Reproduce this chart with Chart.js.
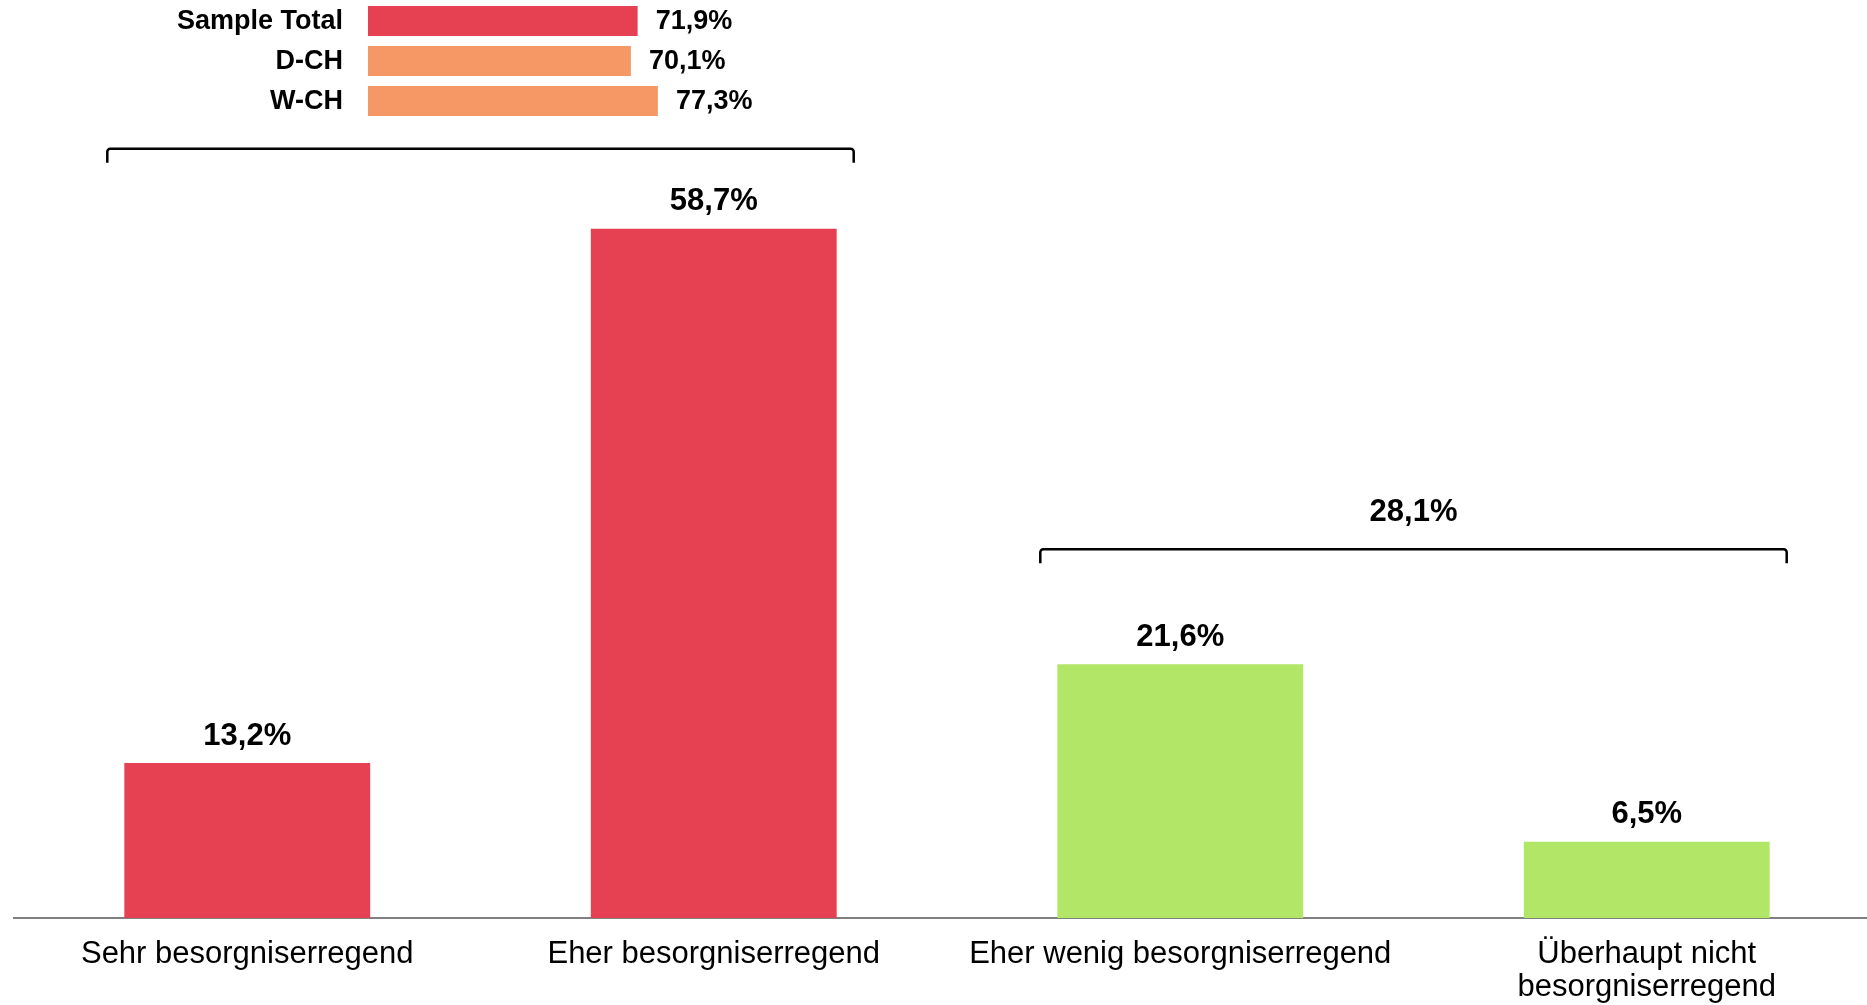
<!DOCTYPE html>
<html>
<head>
<meta charset="utf-8">
<script src="https://cdn.jsdelivr.net/npm/chart.js@4.4.0/dist/chart.umd.min.js"></script>
<style>
  html, body { margin: 0; padding: 0; background: #fff; overflow: hidden; }
  #wrap { position: relative; width: 1880px; height: 1005px; }
  #mainChart { position: absolute; left: 0; top: 0; }
  #regionChart { position: absolute; left: 0; top: 0; }
</style>
</head>
<body>
<div id="wrap">
  <canvas id="mainChart" width="1880" height="1005"></canvas>
  <canvas id="regionChart" width="800" height="125"></canvas>
</div>
<script>
// Main distribution
const categories = ['Sehr besorgniserregend', 'Eher besorgniserregend', 'Eher wenig besorgniserregend', ['Überhaupt nicht', 'besorgniserregend']];
const shares = [13.2, 58.7, 21.6, 6.5];
const barColors = ['#E54152', '#E54152', '#B2E667', '#B2E667'];

// Concern total by region (top left)
const regionLabels = ['Sample Total', 'D-CH', 'W-CH'];
const regionShares = [71.9, 70.1, 77.3];
const regionColors = ['#E54152', '#F59866', '#F59866'];

// Brackets grouping the categories
const bracketGroups = [[0, 1], [2, 3]];
const bracketLevels = [65.5, 31.4];
const bracketLabels = [null, '28,1%'];

const FONT = '"Liberation Sans", Arial, sans-serif';

function fmt(v) {
  return v.toFixed(1).replace('.', ',') + '%';
}

const valueLabels = {
  id: 'valueLabels',
  afterDatasetsDraw(chart) {
    const ctx = chart.ctx;
    const meta = chart.getDatasetMeta(0);
    ctx.save();
    ctx.fillStyle = '#000';
    ctx.font = 'bold 31px ' + FONT;
    ctx.textAlign = 'center';
    ctx.textBaseline = 'middle';
    meta.data.forEach((bar, i) => {
      ctx.fillText(fmt(shares[i]), bar.x, bar.y - 27);
    });
    ctx.restore();
  }
};

const brackets = {
  id: 'brackets',
  afterDatasetsDraw(chart) {
    const ctx = chart.ctx;
    const x = chart.scales.x;
    const y = chart.scales.y;
    const half = (x.getPixelForValue(1) - x.getPixelForValue(0)) * 0.3;
    ctx.save();
    ctx.strokeStyle = '#000';
    ctx.lineWidth = 2.5;
    ctx.lineJoin = 'round';
    bracketGroups.forEach((g, i) => {
      const x1 = x.getPixelForValue(g[0]) - half;
      const x2 = x.getPixelForValue(g[1]) + half;
      const yy = y.getPixelForValue(bracketLevels[i]);
      ctx.beginPath();
      ctx.moveTo(x1, yy + 14);
      ctx.arcTo(x1, yy, x1 + 4, yy, 3);
      ctx.arcTo(x2, yy, x2, yy + 4, 3);
      ctx.lineTo(x2, yy + 14);
      ctx.stroke();
      if (bracketLabels[i]) {
        ctx.fillStyle = '#000';
        ctx.font = 'bold 31px ' + FONT;
        ctx.textAlign = 'center';
        ctx.textBaseline = 'middle';
        ctx.fillText(bracketLabels[i], (x1 + x2) / 2, yy - 37);
      }
    });
    ctx.restore();
  }
};

new Chart(document.getElementById('mainChart'), {
  type: 'bar',
  data: {
    labels: categories,
    datasets: [{
      data: shares,
      backgroundColor: barColors,
      barPercentage: 0.527,
      categoryPercentage: 1
    }]
  },
  options: {
    responsive: false,
    animation: false,
    layout: { padding: { left: 14, top: 96, right: 0, bottom: 0 } },
    plugins: { legend: { display: false }, tooltip: { enabled: false } },
    scales: {
      x: {
        grid: { display: false, drawTicks: false },
        border: { display: true, color: '#808080', width: 2 },
        ticks: {
          font: { family: FONT, size: 31, lineHeight: 1.07 },
          color: '#000',
          padding: 20,
          maxRotation: 0,
          autoSkip: false
        },
        afterFit: (s) => { s.height = 87; }
      },
      y: { display: false, min: 0, max: 70 }
    }
  },
  plugins: [valueLabels, brackets]
});

// labels left of the bars and values right of them
const regionText = {
  id: 'regionText',
  afterDatasetsDraw(chart) {
    const ctx = chart.ctx;
    const meta = chart.getDatasetMeta(0);
    const left = chart.chartArea.left;
    ctx.save();
    ctx.fillStyle = '#000';
    ctx.font = 'bold 27px ' + FONT;
    ctx.textBaseline = 'middle';
    meta.data.forEach((bar, i) => {
      ctx.textAlign = 'right';
      ctx.fillText(regionLabels[i], left - 25, bar.y + 1);
      ctx.textAlign = 'left';
      ctx.fillText(fmt(regionShares[i]), bar.x + 18, bar.y + 1);
    });
    ctx.restore();
  }
};

new Chart(document.getElementById('regionChart'), {
  type: 'bar',
  data: {
    labels: regionLabels,
    datasets: [{
      data: regionShares,
      backgroundColor: regionColors,
      barPercentage: 0.75,
      categoryPercentage: 1
    }]
  },
  options: {
    indexAxis: 'y',
    responsive: false,
    animation: false,
    layout: { padding: { left: 368, top: 1, right: 57, bottom: 4 } },
    plugins: { legend: { display: false }, tooltip: { enabled: false } },
    scales: {
      x: { display: false, min: 0, max: 100 },
      y: { display: false }
    }
  },
  plugins: [regionText]
});
</script>
</body>
</html>
